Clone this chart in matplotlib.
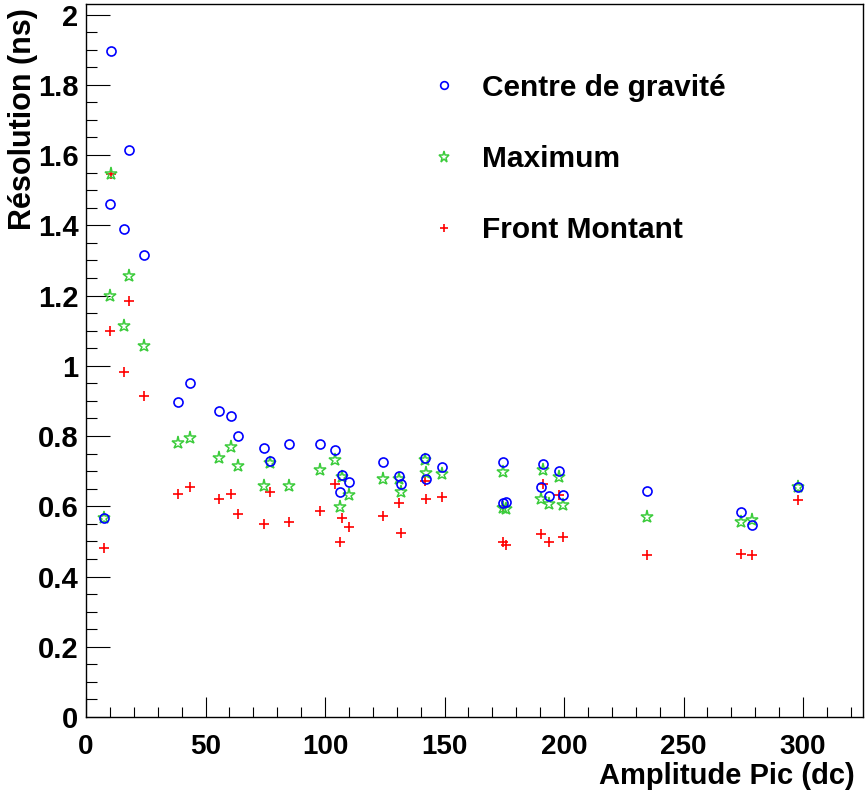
import matplotlib
matplotlib.use("Agg")
import matplotlib.pyplot as plt
from matplotlib.ticker import MultipleLocator

# Data (amplitude in dc, resolution in ns)
amplitude = [7.7, 10.6, 10.2, 16.1, 17.9, 24.1, 38.4, 43.6, 55.7, 60.5,
             63.7, 74.4, 77.0, 85.1, 98.0, 104.2, 106.2, 107.2, 110.0, 124.1,
             130.8, 131.7, 141.8, 142.3, 149.1, 174.4, 174.6, 175.7, 191.1, 190.4,
             193.7, 198.0, 199.7, 234.9, 274.1, 278.5, 297.8]
centre_gravite = [0.566, 1.895, 1.461, 1.389, 1.615, 1.315, 0.897, 0.950, 0.871, 0.858,
                  0.800, 0.765, 0.729, 0.778, 0.778, 0.760, 0.642, 0.690, 0.670, 0.727,
                  0.686, 0.662, 0.737, 0.677, 0.713, 0.727, 0.609, 0.613, 0.719, 0.655,
                  0.630, 0.701, 0.632, 0.643, 0.583, 0.547, 0.656]
maximum = [0.566, 1.547, 1.200, 1.114, 1.257, 1.055, 0.779, 0.793, 0.737, 0.768,
           0.715, 0.659, 0.724, 0.658, 0.704, 0.733, 0.598, 0.684, 0.631, 0.677,
           0.678, 0.641, 0.732, 0.694, 0.693, 0.697, 0.596, 0.593, 0.704, 0.620,
           0.607, 0.683, 0.604, 0.570, 0.554, 0.561, 0.656]
front_montant = [0.482, 1.547, 1.100, 0.982, 1.185, 0.913, 0.634, 0.656, 0.620, 0.636,
                 0.577, 0.550, 0.640, 0.554, 0.586, 0.664, 0.498, 0.566, 0.542, 0.572,
                 0.610, 0.524, 0.673, 0.620, 0.625, 0.600, 0.498, 0.491, 0.663, 0.522,
                 0.497, 0.631, 0.513, 0.461, 0.465, 0.462, 0.617]

labels = ["Centre de gravité", "Maximum", "Front Montant"]
x_label = "Amplitude Pic (dc)"
y_label = "Résolution (ns)"

plt.rcParams['font.family'] = ['Liberation Sans', 'DejaVu Sans']
plt.rcParams['font.weight'] = 'bold'

fig = plt.figure(figsize=(8.68, 7.96), dpi=100)
W, H = 868, 796
left, right, bottom, top = 86, 863.3, 717, 4
ax = fig.add_axes([left / W, 1 - bottom / H, (right - left) / W, (bottom - top) / H])

ax.plot(amplitude, centre_gravite, linestyle='none', marker='o', ms=6.5,
        mfc='none', mec='#0000ff', mew=1.2, label=labels[0], zorder=3)
ax.plot(amplitude, maximum, linestyle='none', marker='*', ms=9.5,
        mfc='none', mec='#3ccc3c', mew=1.1, label=labels[1], zorder=2)
ax.plot(amplitude, front_montant, linestyle='none', marker='+', ms=7,
        mec='#ff0000', mew=1.2, label=labels[2], zorder=1)

ax.set_xlim(0, 325.2)
ax.set_ylim(0, 2.030)

ax.xaxis.set_major_locator(MultipleLocator(50))
ax.xaxis.set_minor_locator(MultipleLocator(10))
ax.yaxis.set_major_locator(MultipleLocator(0.2))
ax.yaxis.set_minor_locator(MultipleLocator(0.05))

ax.yaxis.set_major_formatter(plt.FuncFormatter(lambda v, p: ('%g' % round(v, 2))))

ax.tick_params(axis='x', which='major', direction='in', length=14.4, width=0.8,
               labelsize=20, pad=12.5)
ax.tick_params(axis='x', which='minor', direction='in', length=7.2, width=0.8)
ax.tick_params(axis='y', which='major', direction='in', length=17.3, width=0.8,
               labelsize=21, pad=5.5)
ax.tick_params(axis='y', which='minor', direction='in', length=8, width=0.8)
for lab in ax.get_xticklabels() + ax.get_yticklabels():
    lab.set_fontweight('bold')
for s in ax.spines.values():
    s.set_linewidth(1.0)

ax.set_xlabel(x_label, fontsize=21, fontweight='bold', loc='right')
ax.xaxis.set_label_coords(0.989, -0.063)
ax.set_ylabel(y_label, fontsize=22, fontweight='bold', loc='top')
ax.yaxis.set_label_coords(-0.062, 0.994)

leg = ax.legend(loc='upper left', bbox_to_anchor=(0.441, 0.902), frameon=False,
                fontsize=21.5, handlelength=1.0, handletextpad=0.77,
                labelspacing=1.45, borderpad=0, borderaxespad=0, markerscale=0.85)
for t in leg.get_texts():
    t.set_fontweight('bold')

fig.savefig("out.png", dpi=100)
